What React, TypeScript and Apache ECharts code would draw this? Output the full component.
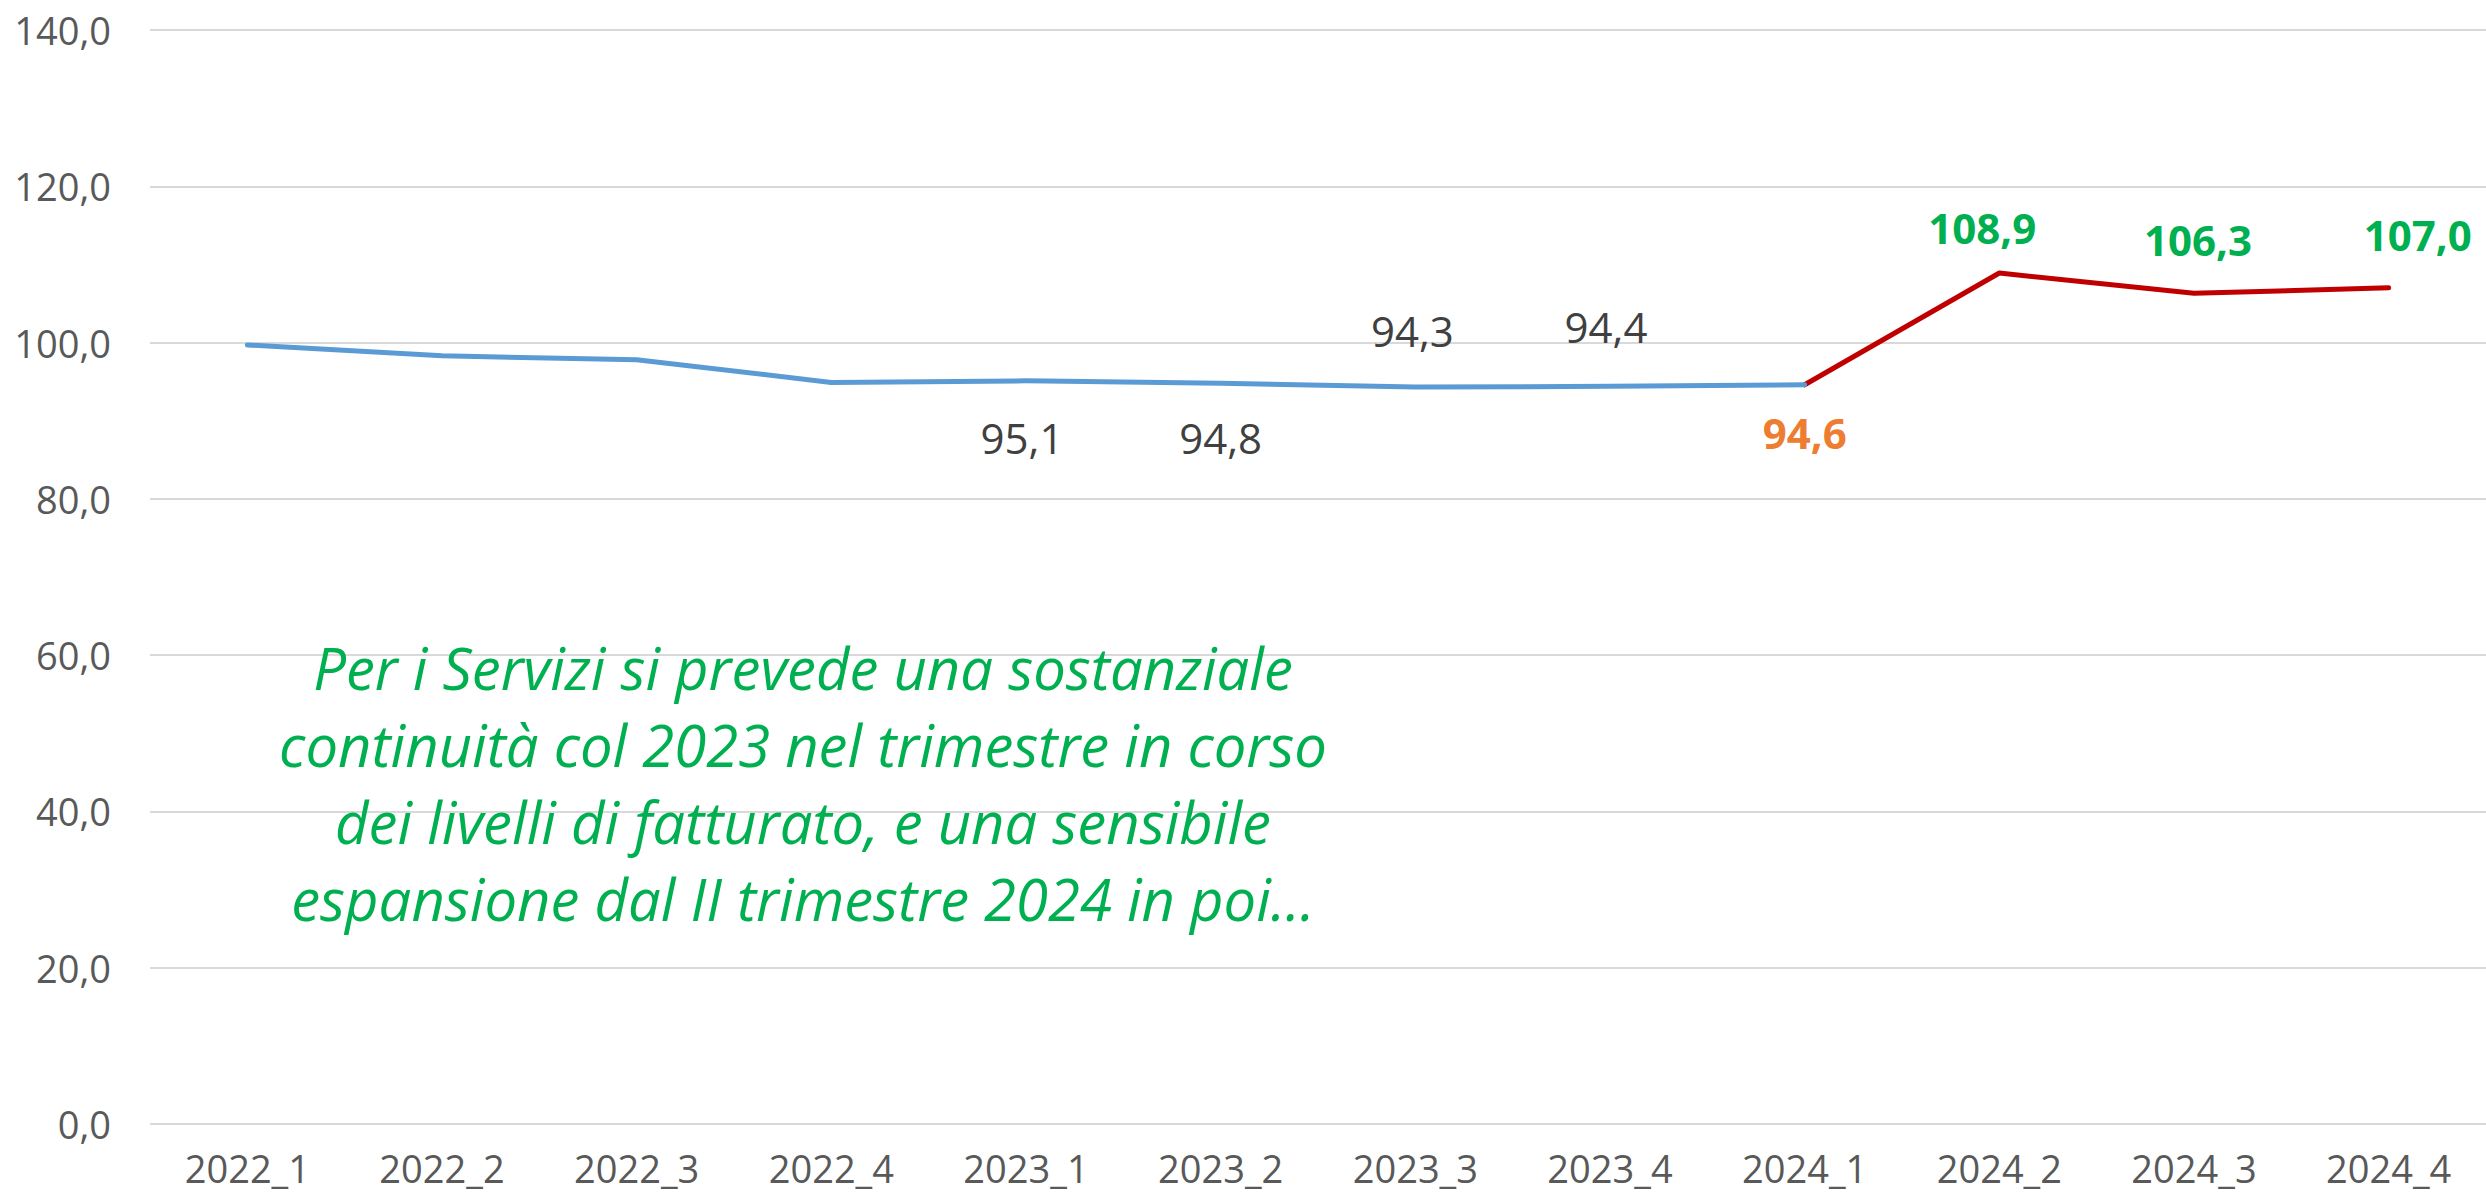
import React, { useEffect, useRef } from "react";
import * as echarts from "echarts";

const categories = [
  "2022_1", "2022_2", "2022_3", "2022_4",
  "2023_1", "2023_2", "2023_3", "2023_4",
  "2024_1", "2024_2", "2024_3", "2024_4",
];
// historical (blue) values, 2022_1 .. 2024_1
const consuntivo = [99.7, 98.3, 97.8, 94.9, 95.1, 94.8, 94.3, 94.4, 94.6];
// forecast (red) values, 2024_1 .. 2024_4
const previsione = [94.6, 108.9, 106.3, 107.0];
const forecastStart = 8;

const yMin = 0;
const yMax = 140;
const yInterval = 20;

const noteLines = [
  "Per i Servizi si prevede una sostanziale",
  "continuità col 2023 nel trimestre in corso",
  "dei livelli di fatturato, e una sensibile",
  "espansione dal II trimestre 2024 in poi…",
];

const FONT = "'Open Sans', 'Noto Sans', sans-serif";
const fmt = (v: number) => v.toFixed(1).replace(".", ",");

export default function App() {
  const ref = useRef<HTMLDivElement>(null);

  useEffect(() => {
    if (!ref.current) return;
    const chart = echarts.init(ref.current, undefined, { renderer: "svg" });

    const blueLabels: Record<number, [number, number]> = {
      4: [-4, 57],
      5: [0, 54],
      6: [-3, -57],
      7: [-4, -60],
    };
    const blueData = consuntivo.map((v, i) => {
      const l = blueLabels[i];
      if (!l) return { value: v, label: { show: false } };
      return {
        value: v,
        label: {
          show: true,
          position: "inside",
          offset: [l[0], l[1]],
          color: "#404040",
          fontSize: 42,
          fontFamily: FONT,
          textBorderWidth: 0,
          formatter: (p: any) => fmt(p.value),
        },
      };
    });

    const redOffsets: [number, number, string][] = [
      [0, 48, "#ED7D31"],
      [-17, -46, "#00B050"],
      [4, -54, "#00B050"],
      [29, -53, "#00B050"],
    ];
    const redData: any[] = categories.map(() => "-");
    previsione.forEach((v, k) => {
      const o = redOffsets[k];
      redData[forecastStart + k] = {
        value: v,
        label: {
          show: true,
          position: "inside",
          offset: [o[0], o[1]],
          color: o[2],
          fontSize: 42,
          fontWeight: "bold",
          fontFamily: FONT,
          textBorderWidth: 0,
          formatter: (p: any) => fmt(p.value),
        },
      };
    });

    chart.setOption({
      animation: false,
      backgroundColor: "#ffffff",
      grid: { left: 150, right: -10, top: 30, bottom: 74, containLabel: false },
      xAxis: {
        type: "category",
        data: categories,
        boundaryGap: true,
        axisLine: { show: false },
        axisTick: { show: false },
        axisLabel: {
          color: "#595959",
          fontSize: 38,
          lineHeight: 38,
          fontFamily: FONT,
          margin: 25,
          interval: 0,
        },
      },
      yAxis: {
        type: "value",
        min: yMin,
        max: yMax,
        interval: yInterval,
        axisLine: { show: false },
        axisTick: { show: false },
        splitLine: { lineStyle: { color: "#D9D9D9", width: 2 } },
        axisLabel: {
          color: "#595959",
          fontSize: 38,
          fontFamily: FONT,
          margin: 39,
          formatter: (v: number) => fmt(v),
        },
      },
      series: [
        {
          type: "line",
          data: redData,
          symbol: "circle",
          symbolSize: 0,
          showSymbol: true,
          lineStyle: { color: "#C00000", width: 5, cap: "round", join: "round" },
          itemStyle: { color: "#C00000" },
          z: 2,
        },
        {
          type: "line",
          data: blueData,
          symbol: "circle",
          symbolSize: 0,
          showSymbol: true,
          lineStyle: { color: "#5B9BD5", width: 5, cap: "round", join: "round" },
          itemStyle: { color: "#5B9BD5" },
          z: 3,
        },
      ],
      graphic: [
        {
          type: "text",
          x: 803,
          y: 783,
          style: {
            text: noteLines.join("\n"),
            fill: "#00B050",
            fontSize: 58,
            fontStyle: "italic",
            fontFamily: FONT,
            lineHeight: 77,
            align: "center",
            verticalAlign: "middle",
          },
          z: 10,
        },
      ],
    });

    return () => chart.dispose();
  }, []);

  return (
    <div
      ref={ref}
      style={{ position: "fixed", left: 0, top: 0, width: 2486, height: 1198 }}
    />
  );
}
